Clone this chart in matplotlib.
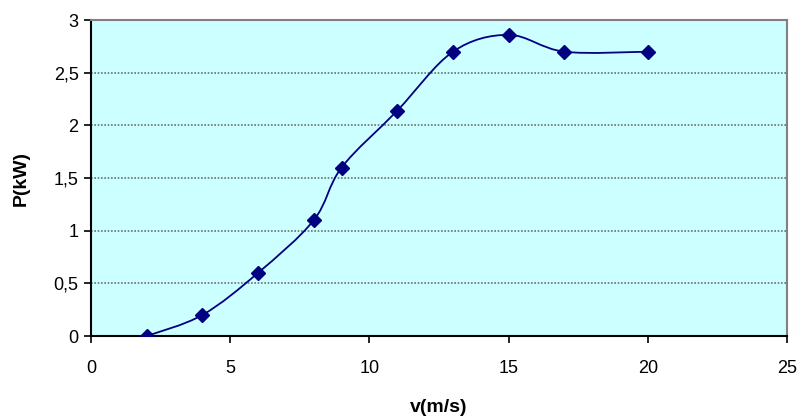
import numpy as np
import matplotlib
matplotlib.use("Agg")
from matplotlib import pyplot as plt
from matplotlib.path import Path
from matplotlib.patches import PathPatch
from matplotlib.ticker import FuncFormatter

plt.rcParams['font.family'] = ['Liberation Sans', 'DejaVu Sans']

v = [2, 4, 6, 8, 9, 11, 13, 15, 17, 20]
P = [0, 0.2, 0.6, 1.1, 1.6, 2.14, 2.7, 2.86, 2.7, 2.7]

def smooth_path(x, y):
    # excel-like smoothed line: bezier with catmull-rom control points
    pts = np.column_stack([x, y]).astype(float)
    n = len(pts)
    verts = [pts[0]]
    codes = [Path.MOVETO]
    for i in range(n - 1):
        p0 = pts[max(i - 1, 0)]
        p1 = pts[i]
        p2 = pts[i + 1]
        p3 = pts[min(i + 2, n - 1)]
        c1 = p1 + (p2 - p0) / 6.
        c2 = p2 - (p3 - p1) / 6.
        verts += [c1, c2, p2]
        codes += [Path.CURVE4] * 3
    return Path(verts, codes)

fig = plt.figure(figsize=(8.02, 4.19), dpi=100)
ax = fig.add_axes([0.1135, 0.198, 0.8678, 0.754])
ax.set_facecolor('#ccffff')

ax.add_patch(PathPatch(smooth_path(v, P), facecolor='none', edgecolor='#000080', lw=1.3, zorder=3))
ax.plot(v, P, linestyle='none', marker='D', ms=7.5, color='#000080', zorder=4)

ax.set_xlim(0, 25)
ax.set_ylim(0, 3)
ax.set_xticks(np.arange(0, 26, 5))
ax.set_yticks(np.arange(0, 3.01, 0.5))
ax.yaxis.set_major_formatter(FuncFormatter(lambda val, pos: ('%g' % val).replace('.', ',')))
ax.grid(axis='y', color='#707070', linestyle=(0, (1, 1)), lw=1.2)
ax.set_axisbelow(True)

for s in ['top', 'right']:
    ax.spines[s].set_color('#808080')
    ax.spines[s].set_linewidth(1.5)
for s in ['left', 'bottom']:
    ax.spines[s].set_color('black')
    ax.spines[s].set_linewidth(1.5)

ax.tick_params(direction='out', length=5, width=1.2, labelsize=13, pad=4)
ax.tick_params(axis='x', pad=12)
ax.set_xlabel('v(m/s)', fontsize=14, fontweight='bold', labelpad=16)
ax.set_ylabel('P(kW)', fontsize=14, fontweight='bold', labelpad=17)

fig.savefig('out.png', dpi=100)
